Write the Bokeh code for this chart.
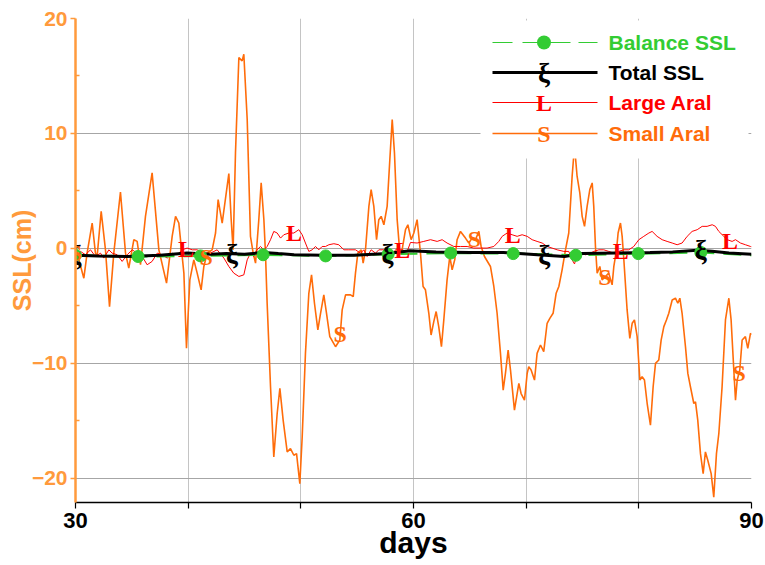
import numpy as np
from bokeh.plotting import figure
from bokeh.models import (Range1d, FixedTicker, Label, BoxAnnotation)
from bokeh.core.properties import value
from bokeh.embed import file_html
from bokeh.resources import INLINE

# ---------------- data ----------------
small_days = [30.0, 30.30, 30.74, 31.03, 31.48, 31.77, 31.92, 32.28, 32.66, 33.02, 33.40, 33.99, 34.44, 34.73,
              35.18, 35.47, 35.77, 36.21, 36.80, 37.40, 38.08, 38.58, 38.88, 39.17, 39.62, 39.85, 40.15, 40.50,
              40.80, 41.15, 41.39, 41.69, 42.13, 42.43, 42.66, 43.02, 43.61, 43.82, 43.99, 44.20, 44.50, 44.79,
              44.94, 45.24, 45.53, 45.77, 45.98, 46.27, 46.48, 46.72, 46.86, 47.01, 47.31, 47.60, 47.90, 48.14,
              48.43, 48.79, 49.08, 49.38, 49.62, 49.91, 50.12, 50.41, 50.71, 50.95, 51.21, 51.51, 51.75, 52.04,
              52.28, 52.57, 53.08, 53.46, 53.67, 53.97, 54.41, 54.65, 54.85, 55.06, 55.36, 55.53, 55.74, 56.04,
              56.24, 56.48, 56.72, 56.92, 57.13, 57.37, 57.66, 57.90, 58.11, 58.31, 58.55, 58.79, 58.99, 59.29,
              59.50, 59.79, 60.03, 60.32, 60.62, 60.85, 61.06, 61.36, 61.56, 61.80, 62.01, 62.24, 62.48, 62.69,
              62.98, 63.22, 63.43, 63.66, 63.87, 64.17, 64.61, 64.91, 65.20, 65.50, 65.80, 66.00, 66.30, 66.83,
              67.13, 67.42, 67.72, 67.96, 68.16, 68.40, 68.61, 68.96, 69.20, 69.35, 69.55, 69.85, 70.09, 70.23,
              70.44, 70.74, 70.97, 71.27, 71.56, 71.86, 72.10, 72.39, 72.66, 72.90, 73.19, 73.49, 73.78, 74.08,
              74.29, 74.52, 74.76, 74.97, 75.18, 75.41, 75.65, 75.86, 76.00, 76.15, 76.30, 76.54, 76.74, 77.04,
              77.33, 77.63, 77.78, 78.02, 78.16, 78.37, 78.52, 78.67, 78.96, 79.20, 79.41, 79.61, 79.85, 80.09,
              80.29, 80.50, 80.74, 81.03, 81.27, 81.48, 81.77, 81.98, 82.22, 82.45, 82.66, 82.96, 83.25, 83.46,
              83.64, 83.84, 84.14, 84.35, 84.58, 84.88, 85.03, 85.23, 85.47, 85.71, 85.91, 86.12, 86.42, 86.65,
              86.89, 87.10, 87.39, 87.69, 87.99, 88.19, 88.43, 88.58, 88.73, 88.96, 89.17, 89.46, 89.67, 89.91,
              90.0]
small_ssl = [-0.41, -0.99, -2.59, -0.41, 2.21, -0.41, -0.70, 3.23, -0.12, -5.06, -0.41, 4.91, -0.41, -1.72,
             0.76, 0.61, -1.42, 2.79, 6.57, -0.12, -3.02, 1.05, 2.79, 2.21, -2.15, -8.69, -2.73, -0.99,
             -2.15, -3.60, -1.57, -0.41, -0.12, 1.34, 4.24, 2.21, 6.51, 2.50, -0.12, 8.31, 16.60, 16.31,
             16.89, 11.22, 1.05, -0.41, -1.28, 2.50, 5.70, 2.50, -0.41, -4.77, -12.03, -18.14, -14.36, -12.18,
             -14.94, -17.70, -17.41, -17.99, -17.85, -20.47, -16.40, -9.13, -3.90, -2.30, -4.77, -7.09, -5.64, -4.04,
             -5.64, -7.67, -8.55, -7.97, -5.35, -4.04, -4.04, -4.19, -2.15, -0.41, -0.12, -1.28, -0.12, 3.66,
             5.12, 3.66, 0.76, 2.50, 2.79, 2.06, 3.66, 7.73, 11.22, 8.31, 2.50, -0.41, -0.12, 1.63,
             2.06, 0.76, 1.34, 2.50, -0.41, -3.31, -3.60, -5.64, -7.53, -6.37, -5.49, -6.80, -8.55, -6.22,
             -2.73, -0.70, -1.86, -0.99, 0.76, 1.48, 0.90, 0.47, 0.90, 0.76, 1.48, 0.17, -0.70, -1.57,
             -3.31, -5.64, -9.13, -12.33, -10.87, -8.84, -10.58, -14.07, -12.62, -11.74, -12.62, -13.20, -10.87, -10.29,
             -10.58, -11.45, -9.13, -8.40, -8.98, -6.51, -6.08, -5.64, -3.90, -3.31, -1.86, -0.12, 1.34, 6.28,
             8.90, 6.28, 4.83, 2.79, 1.92, 3.66, 5.12, 5.70, 3.66, 0.17, -2.15, -1.57, -2.73, -2.44,
             -2.15, -3.17, -1.57, -0.12, 1.34, 2.21, 1.05, -0.99, -5.35, -7.82, -6.51, -6.22, -7.67, -11.45,
             -11.16, -11.45, -13.49, -15.38, -12.03, -10.00, -9.71, -7.97, -6.80, -6.22, -5.64, -4.48, -4.33, -4.77,
             -4.33, -5.64, -8.55, -10.87, -12.03, -13.49, -13.34, -14.94, -17.85, -19.59, -17.70, -18.43, -19.59, -21.63,
             -17.85, -16.10, -12.03, -6.22, -4.33, -6.22, -10.58, -13.20, -11.45, -10.58, -7.97, -7.67, -8.69, -7.38,
             -7.50]

large_days = [30.0, 30.44, 30.89, 31.33, 31.77, 32.22, 32.51, 32.96, 33.25, 33.70, 34.14, 34.59, 35.03, 35.47,
              35.92, 36.36, 36.80, 37.25, 37.69, 38.14, 38.58, 39.02, 39.47, 39.91, 40.36, 40.80, 41.39, 41.98,
              42.57, 43.17, 43.61, 44.05, 44.50, 44.94, 45.24, 45.53, 45.83, 46.12, 46.42, 46.72, 47.01, 47.31,
              47.60, 47.90, 48.20, 48.49, 48.94, 49.38, 49.82, 50.12, 50.41, 50.71, 51.01, 51.30, 51.60, 51.89,
              52.19, 52.49, 52.93, 53.37, 53.82, 54.26, 54.85, 55.30, 55.59, 55.89, 56.24, 56.63, 56.92, 57.37,
              57.81, 58.11, 58.40, 58.99, 59.44, 59.73, 60.32, 60.91, 61.51, 62.10, 62.54, 62.98, 63.58, 64.17,
              64.76, 65.35, 65.94, 66.53, 67.13, 67.57, 67.87, 68.31, 68.75, 69.20, 69.64, 70.09, 70.53, 70.97,
              71.42, 71.86, 72.30, 72.75, 73.34, 73.78, 74.08, 74.29, 74.52, 74.82, 75.26, 75.71, 76.00, 76.45,
              76.89, 77.33, 77.78, 78.22, 78.67, 79.11, 79.55, 80.00, 80.44, 80.89, 81.18, 81.62, 82.07, 82.51,
              82.96, 83.40, 83.84, 84.29, 84.73, 85.18, 85.62, 86.06, 86.51, 86.80, 87.10, 87.54, 87.84, 88.28,
              88.58, 89.02, 89.46, 89.91, 90.0]
large_ssl = [-0.41, -0.26, -0.55, -0.12, -0.70, -0.41, -0.84, -0.12, -0.41, -0.55, -1.13, -0.55, -0.12, -0.41,
             -0.70, -1.42, -1.13, -0.41, -0.55, -0.84, -0.41, -0.55, -0.12, 0.03, -0.12, -0.12, -0.41, -0.41,
             -0.12, -0.84, -1.57, -2.15, -2.44, -2.30, -0.99, -0.41, -0.70, -0.12, 0.17, -0.12, 0.17, 0.76,
             1.48, 1.34, 0.90, 1.19, 1.34, 1.34, 1.63, 1.19, 0.47, -0.26, -0.12, 0.17, -0.12, 0.17,
             0.17, 0.32, 0.41, 0.32, -0.12, -0.12, -0.12, -0.41, -0.12, -0.70, -0.12, -0.41, -0.12, -0.12,
             -0.41, -0.70, -0.12, -0.12, -0.26, 0.52, 0.47, 0.61, 0.76, 0.61, 0.76, 0.47, 0.17, 0.17,
             0.17, 0.03, 0.03, 0.03, 0.17, 0.61, 1.05, 1.34, 1.19, 1.05, 1.19, 1.05, 0.76, 0.61,
             0.47, 0.17, 0.03, -0.12, -0.26, -0.26, -1.00, -1.35, -0.60, -0.41, -0.55, -0.41, -0.26, -0.12,
             -0.12, -0.26, -0.41, -0.26, -0.12, -0.12, 0.17, 0.76, 1.05, 1.34, 1.48, 1.05, 0.76, 0.61,
             0.47, 0.32, 0.47, 1.05, 1.48, 1.63, 1.92, 1.92, 2.06, 1.92, 1.48, 1.05, 0.76, 0.61,
             0.76, 0.47, 0.32, 0.17, 0.15]

total_days = [30, 32, 34.6, 37.5, 39.9, 42, 43.4, 45, 46.7, 48, 49.4, 52, 54.7, 57.7, 59.7, 62, 65, 68, 71,
              73.4, 75, 78, 81, 83, 85.2, 86.5, 88, 90]
total_ssl = [-0.6, -0.65, -0.7, -0.6, -0.4, -0.5, -0.45, -0.5, -0.35, -0.45, -0.55, -0.6, -0.6, -0.45, -0.2,
             -0.3, -0.35, -0.35, -0.55, -0.7, -0.45, -0.4, -0.35, -0.3, -0.15, -0.25, -0.4, -0.5]

balance_days = [30.0, 35.55, 41.1, 46.65, 52.2, 57.75, 63.3, 68.85, 74.4, 79.95, 85.5, 90.0]
balance_ssl = [-0.6, -0.7, -0.65, -0.55, -0.65, -0.5, -0.4, -0.45, -0.6, -0.45, -0.35, -0.6]

total_marker_days = [30.0, 43.9, 57.7, 71.6, 85.5]
large_marker_days = [39.8, 49.4, 59.0, 68.8, 78.4, 88.1]
small_marker_days = [30.0, 41.6, 53.5, 65.4, 77.0, 88.9]

series_names = ["Balance SSL", "Total SSL", "Large Aral", "Small Aral"]
series_symbols = ["", "\u03be", "L", "S"]
series_colors = ["#33CC33", "#000000", "#FF0000", "#FF6C0A"]
symbol_sizes = ["", "27px", "24px", "24px"]

y_ticks = [-20, -10, 0, 10, 20]
y_minor = [-15, -5, 5, 15]
x_ticks = [30, 40, 50, 60, 70, 80, 90]
x_labelled = [30, 60, 90]

AXIS_ORANGE = "#FF9A3C"
SANS = "Liberation Sans"
SERIF = "Liberation Serif"

# ---------------- figure ----------------
p = figure(width=765, height=565, x_range=Range1d(30, 90), y_range=Range1d(-22.1, 20),
           output_backend="svg", toolbar_location=None,
           min_border_left=75, min_border_right=14, min_border_top=18, min_border_bottom=63)
p.outline_line_color = None
p.background_fill_color = "white"

# axes
p.yaxis.ticker = FixedTicker(ticks=y_ticks, minor_ticks=y_minor)
p.yaxis.axis_label = "SSL(cm)"
p.yaxis.axis_label_text_color = AXIS_ORANGE
p.yaxis.axis_label_text_font = SANS
p.yaxis.axis_label_text_font_style = "bold"
p.yaxis.axis_label_text_font_size = "25px"
p.yaxis.axis_label_standoff = -7
p.yaxis.axis_line_color = AXIS_ORANGE
p.yaxis.axis_line_width = 2.5
p.yaxis.major_tick_line_color = AXIS_ORANGE
p.yaxis.major_tick_line_width = 1.5
p.yaxis.major_tick_out = 5
p.yaxis.major_tick_in = 0
p.yaxis.minor_tick_line_color = AXIS_ORANGE
p.yaxis.minor_tick_line_width = 1.5
p.yaxis.minor_tick_in = 4
p.yaxis.minor_tick_out = 0
p.yaxis.major_label_text_color = AXIS_ORANGE
p.yaxis.major_label_text_font = SANS
p.yaxis.major_label_text_font_style = "bold"
p.yaxis.major_label_text_font_size = "21px"
p.yaxis.major_label_standoff = 3

p.xaxis.ticker = FixedTicker(ticks=x_ticks)
p.xaxis.major_label_overrides = {t: ("" if t not in x_labelled else str(t)) for t in x_ticks}
p.xaxis.axis_label = "days"
p.xaxis.axis_label_text_color = "#000000"
p.xaxis.axis_label_text_font = SANS
p.xaxis.axis_label_text_font_style = "bold"
p.xaxis.axis_label_text_font_size = "30px"
p.xaxis.axis_label_standoff = -5
p.xaxis.axis_line_color = "#000000"
p.xaxis.axis_line_width = 1.5
p.xaxis.major_tick_line_color = "#000000"
p.xaxis.major_tick_line_width = 1.2
p.xaxis.major_tick_out = 6
p.xaxis.major_tick_in = 0
p.xaxis.minor_tick_line_color = None
p.xaxis.major_label_text_color = "#000000"
p.xaxis.major_label_text_font = SANS
p.xaxis.major_label_text_font_style = "bold"
p.xaxis.major_label_text_font_size = "22px"
p.xaxis.major_label_standoff = 4

p.xgrid.ticker = FixedTicker(ticks=x_ticks)
p.xgrid.grid_line_color = "#C4C4C4"
p.xgrid.grid_line_width = 1
p.ygrid.ticker = FixedTicker(ticks=y_ticks)
p.ygrid.grid_line_color = "#A6A6A6"
p.ygrid.grid_line_width = 1

# series
p.line(small_days, small_ssl, line_color=series_colors[3], line_width=1.6)
p.line(large_days, large_ssl, line_color=series_colors[2], line_width=1)
p.line(balance_days, balance_ssl, line_color=series_colors[0], line_width=2.2, line_dash="18 9")
p.line(total_days, total_ssl, line_color=series_colors[1], line_width=3)

p.scatter(balance_days[:-1], balance_ssl[:-1], size=12, fill_color=series_colors[0],
          line_color=series_colors[0])

def add_symbols(days, xs, ys, i):
    yv = np.interp(days, xs, ys)
    p.text(x=days, y=list(yv), text=[series_symbols[i]] * len(days), text_color=series_colors[i],
           text_font=value(SERIF), text_font_style="bold", text_font_size=symbol_sizes[i],
           text_align="center", text_baseline="middle")

add_symbols(total_marker_days, total_days, total_ssl, 1)
add_symbols(large_marker_days, large_days, large_ssl, 2)
add_symbols(small_marker_days, small_days, small_ssl, 3)

# ---------------- legend (manual, frame-relative screen units) ----------------
def sbox(left, right, bottom, top, color, radius=0):
    kw = dict(left=left, right=right, bottom=bottom, top=top,
              left_units="screen", right_units="screen", top_units="screen", bottom_units="screen",
              fill_color=color, fill_alpha=1.0, line_color=None)
    if radius:
        kw["border_radius"] = int(radius)
    p.add_layout(BoxAnnotation(**kw))

sbox(405, 673, 344, 482, "white")

row_y = [460, 430, 400, 369]
line_l, line_r, mark_x, text_x = 417, 522, 468.5, 533
line_widths = [1, 3, 1, 1.6]

for i, name in enumerate(series_names):
    y = row_y[i]
    c = series_colors[i]
    if i == 0:
        for a, b in [(417, 437), (447, 462), (475, 495), (503, 522)]:
            sbox(a, b, y - 0.5, y + 0.5, c)
        sbox(mark_x - 7, mark_x + 7, y - 7, y + 7, c, radius=7)
    else:
        w = line_widths[i]
        sbox(line_l, line_r, y - w / 2, y + w / 2, c)
        p.add_layout(Label(x=mark_x, y=y, x_units="screen", y_units="screen",
                           text=series_symbols[i], text_align="center", text_baseline="middle",
                           text_color=c, text_font=SERIF, text_font_style="bold",
                           text_font_size=symbol_sizes[i]))
    p.add_layout(Label(x=text_x, y=y, x_units="screen", y_units="screen", text=name,
                       text_align="left", text_baseline="middle", text_color=c,
                       text_font=SANS, text_font_style="bold", text_font_size="21px"))

open("out.html", "w").write(file_html(p, INLINE))
